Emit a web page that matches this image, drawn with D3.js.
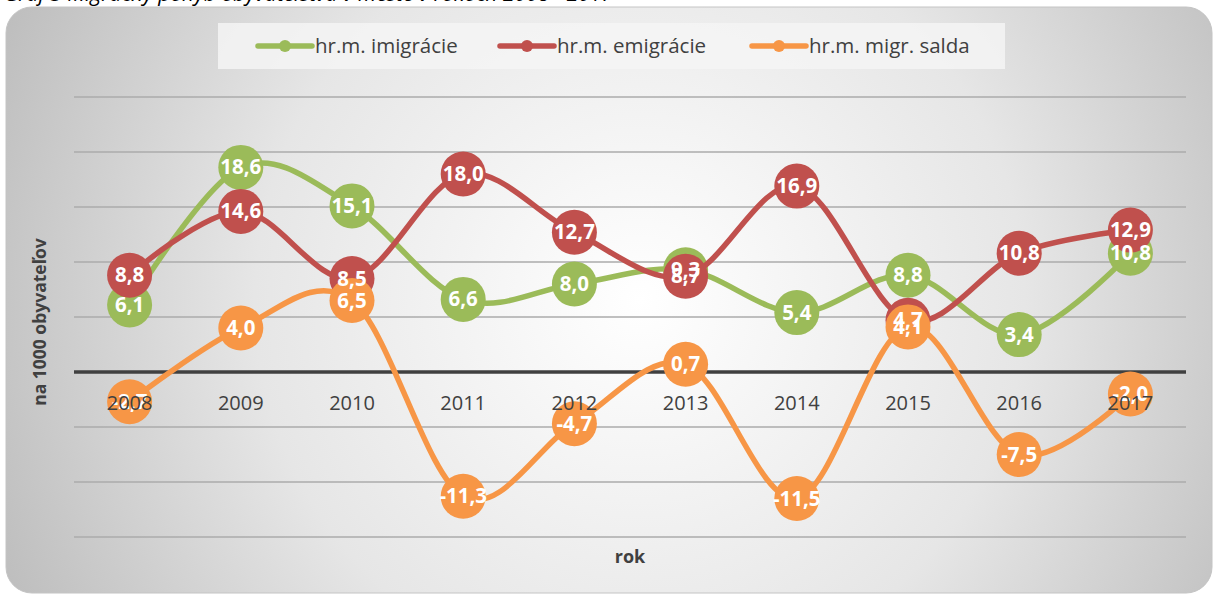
<!DOCTYPE html>
<html>
<head>
<meta charset="utf-8">
<script src="https://cdn.jsdelivr.net/npm/d3@7"></script>
<style>
  body { margin: 0; background: #ffffff; }
  svg { display: block; font-family: "Open Sans", sans-serif; }
</style>
</head>
<body>
<svg id="chart" width="1213" height="594"></svg>
<script>
const years = ["2008", "2009", "2010", "2011", "2012", "2013", "2014", "2015", "2016", "2017"];
const imigracie = [6.1, 18.6, 15.1, 6.6, 8.0, 9.3, 5.4, 8.8, 3.4, 10.8];
const emigracie = [8.8, 14.6, 8.5, 18.0, 12.7, 8.7, 16.9, 4.7, 10.8, 12.9];
const saldo = [-2.7, 4.0, 6.5, -11.3, -4.7, 0.7, -11.5, 4.1, -7.5, -2.0];
const yTicks = [-15, -10, -5, 0, 5, 10, 15, 20, 25];

const seriesNames = ["hr.m. imigrácie", "hr.m. emigrácie", "hr.m. migr. salda"];
const seriesColors = ["#9bbb59", "#c0504d", "#f79646"];
const seriesValues = [imigracie, emigracie, saldo];

const svg = d3.select("#chart"),
  width = +svg.attr("width"),
  height = +svg.attr("height");

const plot = { left: 74, right: 1186, top: 97, bottom: 537 };

// background card with radial gradient
const defs = svg.append("defs");
const grad = defs.append("radialGradient")
  .attr("id", "bg")
  .attr("gradientUnits", "userSpaceOnUse")
  .attr("cx", 640).attr("cy", 300).attr("r", 700);
grad.append("stop").attr("offset", "0%").attr("stop-color", "#ffffff");
grad.append("stop").attr("offset", "55%").attr("stop-color", "#e6e6e6");
grad.append("stop").attr("offset", "100%").attr("stop-color", "#bdbdbd");

// caption above the chart, cut off by the page edge as in the source
svg.append("text")
  .attr("x", 4).attr("y", 1)
  .attr("font-style", "italic")
  .attr("font-size", 21)
  .attr("fill", "#000")
  .text("Graf 3 Migračný pohyb obyvateľstva v meste v rokoch 2008 - 2017");

svg.append("rect")
  .attr("x", 6).attr("y", 7)
  .attr("width", 1206).attr("height", 586)
  .attr("rx", 26)
  .attr("fill", "url(#bg)")
  .attr("stroke", "#c4c4c4")
  .attr("stroke-width", 1);

const x = d3.scaleBand().domain(years).range([plot.left, plot.right]);
const y = d3.scaleLinear().domain([-15, 25]).range([plot.bottom, plot.top]);
const cx = (d) => x(d) + x.bandwidth() / 2;

// gridlines
svg.append("g")
  .selectAll("line")
  .data(yTicks.filter((t) => t !== 0))
  .join("line")
  .attr("x1", plot.left).attr("x2", plot.right)
  .attr("y1", (d) => y(d)).attr("y2", (d) => y(d))
  .attr("stroke", "#ababab")
  .attr("stroke-width", 1.3);

// zero axis
svg.append("line")
  .attr("x1", plot.left).attr("x2", plot.right)
  .attr("y1", y(0)).attr("y2", y(0))
  .attr("stroke", "#404040")
  .attr("stroke-width", 3.5);

// legend
const legend = svg.append("g");
legend.append("rect")
  .attr("x", 218).attr("y", 23)
  .attr("width", 787).attr("height", 46)
  .attr("fill", "#f4f4f4")
  .attr("opacity", 0.85);
const legendX = [258, 500, 752];
seriesNames.forEach((name, i) => {
  const lg = legend.append("g").attr("transform", `translate(${legendX[i]},46)`);
  lg.append("line")
    .attr("x1", 0).attr("x2", 54)
    .attr("stroke", seriesColors[i])
    .attr("stroke-width", 5.5)
    .attr("stroke-linecap", "round");
  lg.append("circle").attr("cx", 27).attr("r", 6).attr("fill", seriesColors[i]);
  lg.append("text")
    .attr("x", 57).attr("y", 7)
    .attr("font-size", 20.5)
    .attr("fill", "#404040")
    .text(name);
});

// series lines and markers
const line = d3.line()
  .x((d, i) => cx(years[i]))
  .y((d) => y(d))
  .curve(d3.curveCatmullRom.alpha(0));

seriesValues.forEach((vals, s) => {
  const sg = svg.append("g");
  sg.append("path")
    .datum(vals)
    .attr("d", line)
    .attr("fill", "none")
    .attr("stroke", seriesColors[s])
    .attr("stroke-width", 5.5)
    .attr("stroke-linecap", "round");
  sg.selectAll("circle")
    .data(vals)
    .join("circle")
    .attr("cx", (d, i) => cx(years[i]))
    .attr("cy", (d) => y(d))
    .attr("r", 22.5)
    .attr("fill", seriesColors[s]);
});

// data labels
const fmt = (v) => v.toFixed(1).replace(".", ",");
seriesValues.forEach((vals) => {
  svg.append("g")
    .selectAll("text")
    .data(vals)
    .join("text")
    .attr("x", (d, i) => cx(years[i]))
    .attr("y", (d) => y(d) + 7)
    .attr("text-anchor", "middle")
    .attr("font-size", 20.5)
    .attr("font-weight", "bold")
    .attr("fill", "#ffffff")
    .text(fmt);
});

// category labels on the zero axis
svg.append("g")
  .selectAll("text")
  .data(years)
  .join("text")
  .attr("x", (d) => cx(d))
  .attr("y", y(0) + 38)
  .attr("text-anchor", "middle")
  .attr("font-size", 20)
  .attr("fill", "#404040")
  .text((d) => d);

// axis titles
svg.append("text")
  .attr("x", (plot.left + plot.right) / 2)
  .attr("y", 563)
  .attr("text-anchor", "middle")
  .attr("font-size", 18)
  .attr("font-weight", "bold")
  .attr("fill", "#404040")
  .text("rok");

svg.append("text")
  .attr("transform", "translate(46,322) rotate(-90)")
  .attr("text-anchor", "middle")
  .attr("font-size", 17.5)
  .attr("font-weight", "bold")
  .attr("fill", "#404040")
  .text("na 1000 obyvateľov");
</script>
</body>
</html>
